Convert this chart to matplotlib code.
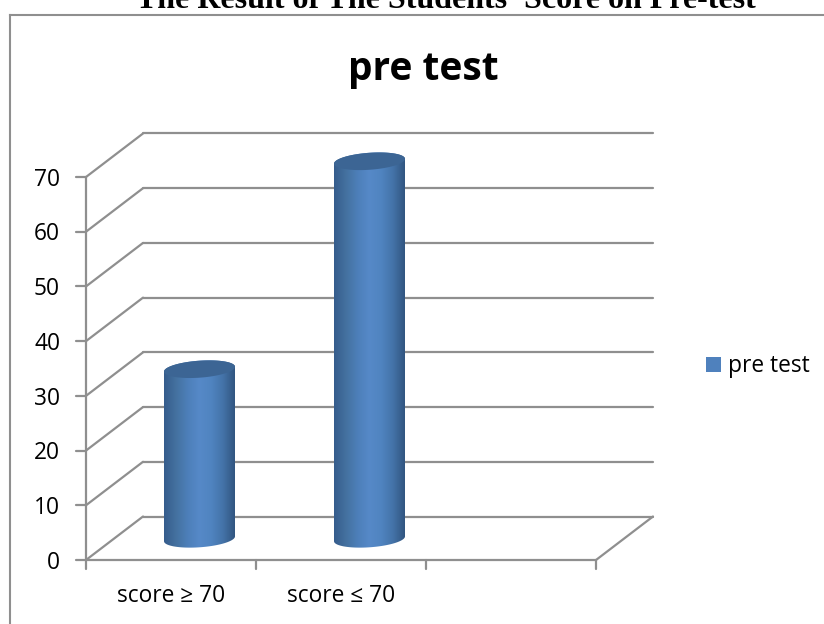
import numpy as np
import matplotlib
matplotlib.use("Agg")
import matplotlib.pyplot as plt
from matplotlib.colors import LinearSegmentedColormap
from matplotlib.path import Path
from matplotlib.patches import PathPatch, Rectangle

categories = ["score ≥ 70", "score ≤ 70"]
values = [31, 69]
series_name = "pre test"
chart_title = "pre test"
page_title = "The Result of The Students' Score on Pre-test"
y_ticks = [0, 10, 20, 30, 40, 50, 60, 70]
n_slots = 3

W, H = 824, 624
GRID = "#8f8f8f"
fig = plt.figure(figsize=(W / 100, H / 100), dpi=100, facecolor="white")
left, right, bottom, top = 86, 596, 560, 177
ax = fig.add_axes([left / W, 1 - bottom / H, (right - left) / W, (bottom - top) / H])
ax.set_xlim(0, n_slots)
ax.set_ylim(0, 70)
ax.axis("off")

px = n_slots / (right - left)          # data x per pixel
py = 70 / (bottom - top)               # data y per pixel
dx, dy = 57 * px, 43.5 * py            # depth of the 3D box
lw = 1.6
kw = dict(color=GRID, lw=lw, clip_on=False, solid_capstyle="round")

# back wall gridlines and side-wall lines
for t in y_ticks:
    ax.plot([dx, n_slots + dx], [t + dy, t + dy], **kw)
    ax.plot([0, dx], [t, t + dy], **kw)
    ax.plot([-10 * px, 0], [t, t], **kw)
# floor, front axis
ax.plot([n_slots, n_slots + dx], [0, dy], **kw)
ax.plot([0, n_slots], [0, 0], **kw)
ax.plot([0, 0], [0, 70], **kw)
for i in range(n_slots + 1):
    ax.plot([i, i], [0, -9 * py], **kw)

# cylinders
cmap = LinearSegmentedColormap.from_list(
    "cyl", ["#355c8c", "#44719f", "#4d7fb9", "#5689c8", "#5084c0", "#4473a8", "#315580"])
rx = 35.5 * px
ry = 8.5 * py
tilt = 2.4 * py  # rise of the ellipse's right end relative to its centre
theta = np.linspace(0, 2 * np.pi, 121)


def ell(cx, cy, a):
    return cx + rx * np.cos(a), cy + ry * np.sin(a) + tilt * np.cos(a)


for i, v in enumerate(values):
    cx = i + 0.5 + dx / 2
    base = dy / 2 - 0.1
    # body outline: lower half of base ellipse, then up the side and over the top
    a1 = np.linspace(np.pi, 2 * np.pi, 60)
    bx, by = ell(cx, base, a1)
    a2 = np.linspace(0, np.pi, 60)
    tx, ty = ell(cx, base + v, a2)
    verts = np.column_stack([np.r_[bx, tx], np.r_[by, ty]])
    clip = PathPatch(Path(np.vstack([verts, verts[0]])), transform=ax.transData,
                     fc="none", ec="none", clip_on=False)
    ax.add_patch(clip)
    grad = np.linspace(0, 1, 256).reshape(1, -1)
    im = ax.imshow(grad, cmap=cmap, aspect="auto", zorder=3, interpolation="bilinear",
                   extent=[cx - rx, cx + rx, base - ry - tilt, base + v + ry + tilt])
    im.set_clip_path(clip)
    im.set_clip_box(fig.bbox)
    ex, ey = ell(cx, base + v, theta)
    ax.fill(ex, ey, color="#3c6594", zorder=4, lw=0, clip_on=False)
ax.set_xlim(0, n_slots)
ax.set_ylim(0, 70)

sans = "Open Sans"
# tick labels
for t in y_ticks:
    ax.text(-26 * px, t - 0.5, str(t), ha="right", va="center", fontsize=16.4,
            family=sans, color="black", clip_on=False)
for i, c in enumerate(categories):
    ax.text(i + 0.5, -42 * py, c, ha="center", va="baseline", fontsize=16.4, family=sans,
            color="black", clip_on=False)

# titles, legend, frame in figure pixels
ftext = lambda x, y, s, **k: fig.text(x / W, 1 - y / H, s, **k)
ftext(423, 80, chart_title, ha="center", va="baseline", fontsize=28, family=sans,
      fontweight="bold", color="black")
ftext(445.5, 7.5, page_title, ha="center", va="baseline", fontsize=23,
      family="Liberation Serif", fontweight="bold", color="black")
ftext(728, 372, series_name, ha="left", va="baseline", fontsize=16.4, family=sans, color="black")
fig.add_artist(Rectangle((706 / W, 1 - 372 / H), 15 / W, 15 / H, transform=fig.transFigure,
                         fc="#4f81bd", ec="none"))
frame = "#8f8f8f"
fig.add_artist(plt.Line2D([10 / W, 10 / W], [0, 1 - 14.5 / H], color=frame, lw=1.5))
fig.add_artist(plt.Line2D([10 / W, 1], [1 - 14.5 / H, 1 - 14.5 / H], color=frame, lw=1.5))

fig.savefig("out.png", dpi=100, facecolor="white")
